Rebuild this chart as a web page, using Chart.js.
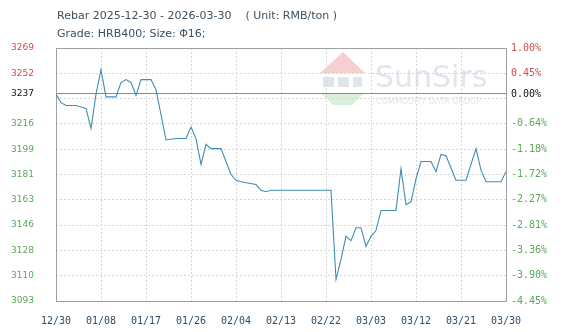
<!DOCTYPE html>
<html>
<head>
<meta charset="utf-8">
<script src="https://cdn.jsdelivr.net/npm/chart.js@4.4.1/dist/chart.umd.min.js"></script>
<style>
  html, body { margin: 0; padding: 0; background: #fff; }
  #wrap { position: relative; width: 567px; height: 332px; }
  #chart { position: absolute; left: 0; top: 0; }
  #title { position: absolute; left: 57px; top: 7px; font: 11px 'DejaVu Sans', sans-serif; color: #3e5060; line-height: 18px; white-space: pre; }
</style>
</head>
<body>
<div id="wrap">
  <canvas id="chart" width="567" height="332"></canvas>
  <div id="title">Rebar 2025-12-30 - 2026-03-30    ( Unit: RMB/ton )
Grade: HRB400; Size: Φ16;</div>
</div>
<script>
const basePrice = 3237;

const dates = [
  '2025-12-30', '2025-12-31', '2026-01-01', '2026-01-03', '2026-01-04', '2026-01-05', '2026-01-06',
  '2026-01-07', '2026-01-08', '2026-01-09', '2026-01-11', '2026-01-12', '2026-01-13', '2026-01-14',
  '2026-01-15', '2026-01-16', '2026-01-18', '2026-01-19', '2026-01-21', '2026-01-23', '2026-01-25',
  '2026-01-26', '2026-01-27', '2026-01-28', '2026-01-29', '2026-01-30', '2026-02-01', '2026-02-03',
  '2026-02-04', '2026-02-05', '2026-02-08', '2026-02-09', '2026-02-10', '2026-02-11', '2026-02-23',
  '2026-02-24', '2026-02-25', '2026-02-26', '2026-02-27', '2026-02-28', '2026-03-01', '2026-03-02',
  '2026-03-03', '2026-03-04', '2026-03-05', '2026-03-08', '2026-03-09', '2026-03-10', '2026-03-11',
  '2026-03-12', '2026-03-13', '2026-03-15', '2026-03-16', '2026-03-17', '2026-03-18', '2026-03-20',
  '2026-03-22', '2026-03-24', '2026-03-25', '2026-03-26', '2026-03-29', '2026-03-30'
];

const prices = [
  3237, 3231, 3229, 3229, 3228, 3227, 3213,
  3237, 3254, 3235, 3235, 3245, 3247, 3245,
  3236, 3247, 3247, 3240, 3205, 3206, 3206,
  3214, 3206, 3188, 3202, 3199, 3199, 3181,
  3177, 3176, 3174, 3170, 3169, 3170, 3170,
  3108, 3122, 3138, 3135, 3144, 3144, 3131,
  3138, 3142, 3156, 3156, 3185, 3160, 3162,
  3178, 3190, 3190, 3183, 3195, 3194, 3177,
  3177, 3199, 3184, 3176, 3176, 3183
];

const xLabels = ['12/30', '01/08', '01/17', '01/26', '02/04', '02/13', '02/22', '03/03', '03/12', '03/21', '03/30'];
const leftLabels = ['3093', '3110', '3128', '3146', '3163', '3181', '3199', '3216', '3237', '3252', '3269'];
const rightLabels = ['-4.45%', '-3.90%', '-3.36%', '-2.81%', '-2.27%', '-1.72%', '-1.18%', '-0.64%', '0.00%', '0.45%', '1.00%'];

const leftMin = 3093, leftMax = 3269;
const rightMin = -4.45, rightMax = 1.00;
const baseIndex = 8; // label slot that sits on the base price line

const RED = '#d24b4b', GREEN = '#5aa85a', BLACK = '#111';

function dayOffset(d) {
    return Math.round((Date.parse(d) - Date.parse(dates[0])) / 86400000);
}

// even grid ticks, plus one labelled tick at the base level
function buildTicks(min, max, labels, baseValue) {
    const step = (max - min) / (labels.length - 1);
    const ticks = labels.map((l, k) => ({ value: min + k * step, lbl: k === baseIndex ? '' : l }));
    ticks.push({ value: baseValue, lbl: labels[baseIndex], base: true });
    return ticks.sort((a, b) => a.value - b.value);
}

const watermark = {
    id: 'watermark',
    beforeDraw(chart) {
        const c = chart.ctx;
        c.save();
        c.fillStyle = 'rgba(236,150,150,0.45)';
        c.beginPath();
        c.moveTo(320, 73); c.lineTo(343, 52); c.lineTo(365, 73);
        c.closePath(); c.fill();
        c.fillStyle = '#e0e5ec';
        c.fillRect(323, 77, 11, 10);
        c.fillRect(338, 77, 11, 10);
        c.fillRect(353, 77, 9, 10);
        c.fillStyle = 'rgba(160,215,160,0.4)';
        c.beginPath();
        c.moveTo(322, 94); c.lineTo(363, 94); c.lineTo(352, 105); c.lineTo(333, 105);
        c.closePath(); c.fill();
        c.fillStyle = '#e1e6ec';
        c.font = '30px "DejaVu Sans"';
        c.fillText('SunSirs', 375, 87);
        c.font = '8px "DejaVu Sans"';
        c.fillText('COMMODITY DATA GROUP', 376, 104);
        c.restore();
    }
};

const frame = {
    id: 'frame',
    beforeDatasetsDraw(chart) {
        const a = chart.chartArea;
        const c = chart.ctx;
        c.save();
        c.strokeStyle = '#a0a0a0';
        c.lineWidth = 1;
        c.strokeRect(Math.round(a.left) + 0.5, Math.round(a.top) + 0.5, Math.round(a.right - a.left), Math.round(a.bottom - a.top));
        c.restore();
    }
};

const tickColor = base => ctx => {
    const v = ctx.tick.value;
    if (Math.abs(v - base) < 1e-6) return BLACK;
    return v > base ? RED : GREEN;
};

const ctx = document.getElementById('chart').getContext('2d');
new Chart(ctx, {
    type: 'line',
    data: {
        datasets: [{
            data: dates.map((d, i) => ({ x: dayOffset(d), y: prices[i] })),
            borderColor: '#3f8db2',
            borderWidth: 1.1,
            pointRadius: 0,
            tension: 0,
            fill: false,
            yAxisID: 'y'
        }]
    },
    options: {
        responsive: false,
        animation: false,
        layout: { padding: { top: 48, left: 0, right: 0, bottom: 0 } },
        plugins: {
            legend: { display: false },
            tooltip: { enabled: false }
        },
        scales: {
            x: {
                type: 'linear',
                min: 0,
                max: 90,
                afterBuildTicks: scale => { scale.ticks = xLabels.map((l, i) => ({ value: i * 9 })); },
                afterFit: scale => { scale.height = 31; },
                ticks: {
                    autoSkip: false,
                    maxRotation: 0,
                    padding: 14,
                    color: '#2d4d6d',
                    font: { family: 'DejaVu Sans Mono', size: 10 },
                    callback: (v, i) => xLabels[i]
                },
                grid: { color: '#d6d6d6', drawTicks: false },
                border: { display: false, dash: [2, 2] }
            },
            y: {
                type: 'linear',
                position: 'left',
                min: leftMin,
                max: leftMax,
                afterBuildTicks: scale => { scale.ticks = buildTicks(leftMin, leftMax, leftLabels, basePrice); },
                afterFit: scale => { scale.width = 56; },
                ticks: {
                    autoSkip: false,
                    padding: 22,
                    color: tickColor(basePrice),
                    font: { family: 'DejaVu Sans', size: 9 },
                    callback: (v, i, ticks) => ticks[i].lbl
                },
                grid: {
                    drawTicks: false,
                    color: c => (c.tick && c.tick.base) ? '#8a8a8a' : '#d6d6d6'
                },
                border: {
                    display: false,
                    dash: c => (c.tick && c.tick.base) ? [] : [2, 2]
                }
            },
            y2: {
                type: 'linear',
                position: 'right',
                min: rightMin,
                max: rightMax,
                afterBuildTicks: scale => { scale.ticks = buildTicks(rightMin, rightMax, rightLabels, 0); },
                afterFit: scale => { scale.width = 61; },
                ticks: {
                    autoSkip: false,
                    padding: 5,
                    color: tickColor(0),
                    font: { family: 'DejaVu Sans Mono', size: 10 },
                    callback: (v, i, ticks) => ticks[i].lbl
                },
                grid: { drawOnChartArea: false, drawTicks: false },
                border: { display: false }
            }
        }
    },
    plugins: [watermark, frame]
});
</script>
</body>
</html>
